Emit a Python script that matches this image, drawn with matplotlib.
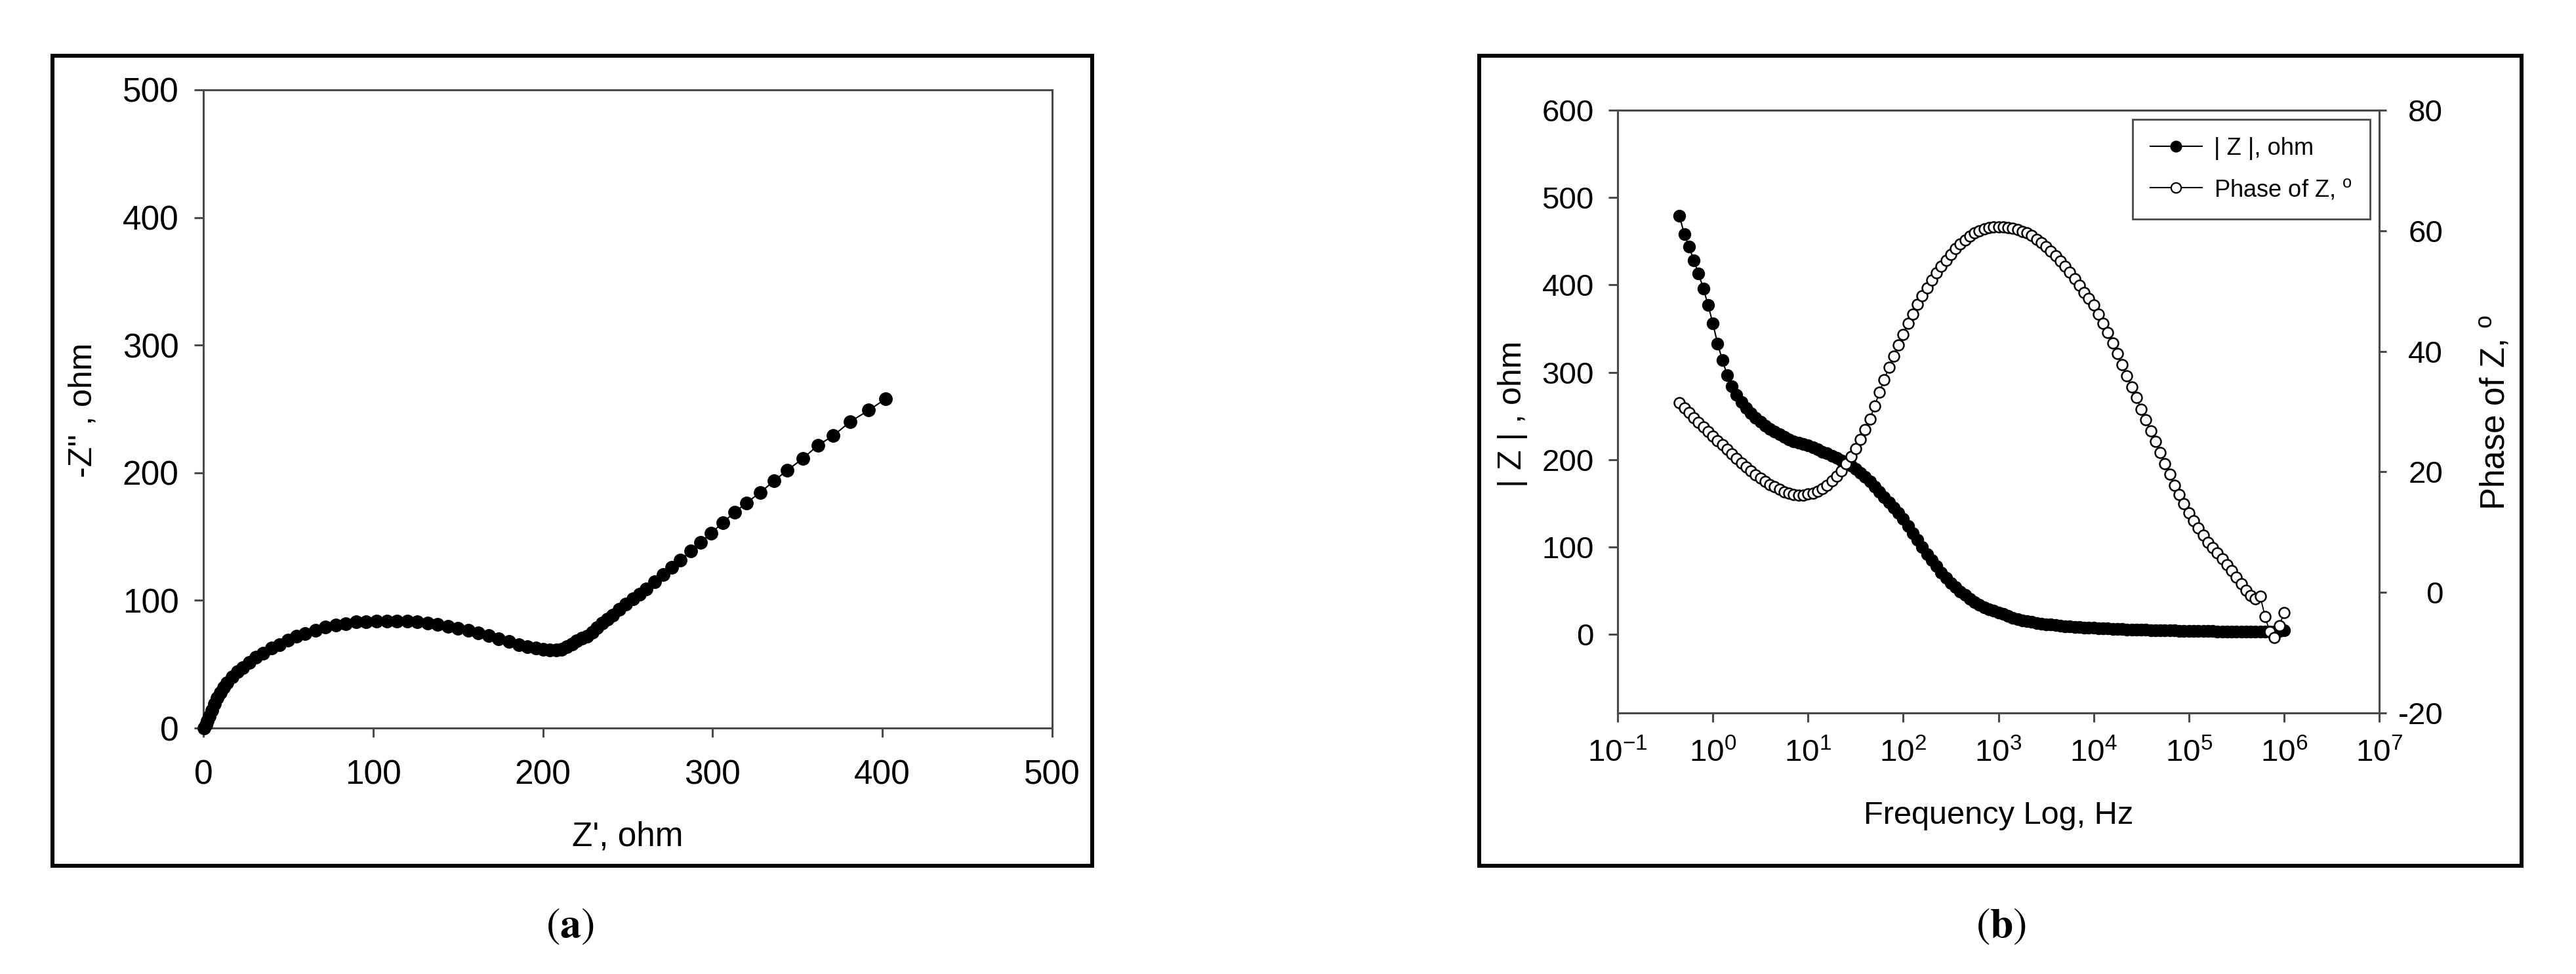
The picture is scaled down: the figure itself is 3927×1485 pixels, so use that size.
import matplotlib
matplotlib.use("Agg")
import matplotlib.pyplot as plt
from matplotlib import font_manager as fm
from matplotlib.patches import Rectangle
from matplotlib.lines import Line2D
from matplotlib.ticker import NullLocator

# ---------------- data: panel (a) Nyquist ----------------
z_real = [0.5, 1.5, 2.5, 3.5, 5, 6.5, 8, 10, 12, 14,
          17, 20, 23, 27, 31, 35, 40, 45, 50, 55,
          60, 66, 72, 78, 84, 90, 96, 102, 108, 114,
          120, 126, 132, 138, 144, 150, 156, 162, 168, 174,
          180, 186, 191, 196, 200, 204, 208, 211, 214, 217,
          220, 223, 226, 229, 232, 235, 238, 241, 245, 249,
          253, 257, 261, 266, 271, 276, 281, 287, 293, 299,
          306, 313, 320, 328, 336, 344, 353, 362, 371, 381,
          392, 402]
z_imag_neg = [0, 2.5, 5.5, 9, 14, 19, 23.5, 28, 32, 35.5,
              40, 44, 47.5, 51.5, 55.5, 58.5, 62.5, 65.5, 69, 72,
              74, 76.5, 79, 80.5, 81.8, 83, 83.5, 84, 84, 84,
              83.8, 83.3, 82.4, 81.2, 79.8, 78.2, 76.4, 74.4, 72.3, 70,
              67.7, 65.5, 63.8, 62.6, 61.8, 61.3, 61, 61.8, 63.5, 66,
              68.5, 70.5, 72, 75, 78.5, 82, 85.2, 88.5, 93, 97,
              101, 105, 109, 114.5, 120.5, 126, 131.5, 138.5, 145.5, 152.5,
              161, 169, 176.5, 184.5, 193.5, 202, 211, 221.5, 229, 240,
              249, 258]
nyq_ticks = [0, 100, 200, 300, 400, 500]

# ---------------- data: panel (b) Bode ----------------
freq_hz = [0.4467, 0.5012, 0.5623, 0.6310, 0.7079, 0.7943, 0.8913,
           1.000, 1.122, 1.259, 1.413, 1.585, 1.778, 1.995, 2.239, 2.512, 2.818,
           3.162, 3.548, 3.981, 4.467, 5.012, 5.623, 6.310, 7.079, 7.943, 8.913,
           10.00, 11.22, 12.59, 14.13, 15.85, 17.78, 19.95, 22.39, 25.12, 28.18,
           31.62, 35.48, 39.81, 44.67, 50.12, 56.23, 63.10, 70.79, 79.43, 89.13,
           100.0, 112.2, 125.9, 141.3, 158.5, 177.8, 199.5, 223.9, 251.2, 281.8,
           316.2, 354.8, 398.1, 446.7, 501.2, 562.3, 631.0, 707.9, 794.3, 891.3,
           1000, 1122, 1259, 1413, 1585, 1778, 1995, 2239, 2512, 2818,
           3162, 3548, 3981, 4467, 5012, 5623, 6310, 7079, 7943, 8913,
           10000, 11220, 12590, 14130, 15850, 17780, 19950, 22390, 25120, 28180,
           31620, 35480, 39810, 44670, 50120, 56230, 63100, 70790, 79430, 89130,
           100000, 112200, 125900, 141300, 158500, 177800, 199500, 223900, 251200, 281800,
           316200, 354800, 398100, 446700, 501200, 562300, 631000, 707900, 794300, 891300,
           1000000]
z_mod = [479, 458, 444, 428, 413, 396, 377,
         356, 333, 314, 297, 284, 274, 266, 259, 253, 248,
         243, 239, 235, 232, 229, 226, 223, 221, 219, 218,
         216, 214, 212, 209, 207, 204, 202, 199, 196, 193,
         189, 185, 180, 175, 169, 163, 157, 151, 145, 139,
         132, 124, 116, 108, 100, 92, 85, 78, 71, 65,
         59, 54, 49, 45, 41, 37, 34, 31, 29, 27,
         25, 23, 21, 19, 17.5, 16, 15, 14, 13, 12.3,
         11.6, 11, 10.4, 9.9, 9.4, 9, 8.6, 8.2, 7.9, 7.6,
         7.3, 7, 6.8, 6.5, 6.3, 6.1, 5.9, 5.7, 5.5, 5.3,
         5.2, 5.0, 4.9, 4.7, 4.6, 4.5, 4.4, 4.3, 4.2, 4.1,
         4.0, 3.9, 3.8, 3.7, 3.6, 3.5, 3.4, 3.4, 3.3, 3.3,
         3.2, 3.2, 3.1, 3.1, 3.0, 3.0, 3.0, 3.1, 3.3, 3.8,
         4.5]
z_phase = [31.5, 30.6, 29.8, 29.0, 28.2, 27.4, 26.7,
           25.9, 25.2, 24.5, 23.7, 23.0, 22.2, 21.5, 20.8, 20.1, 19.5,
           19.0, 18.4, 17.9, 17.5, 17.1, 16.7, 16.4, 16.2, 16.1, 16.1,
           16.3, 16.5, 16.8, 17.2, 17.8, 18.5, 19.3, 20.2, 21.3, 22.5,
           23.9, 25.4, 27.0, 28.8, 30.9, 33.2, 35.3, 37.3, 39.2, 41.0,
           42.8, 44.6, 46.2, 47.8, 49.2, 50.5, 51.8, 53.0, 54.1, 55.1,
           56.1, 57.0, 57.8, 58.5, 59.1, 59.6, 60.0, 60.3, 60.5, 60.6,
           60.6, 60.6, 60.5, 60.4, 60.2, 59.9, 59.6, 59.2, 58.6, 58.0,
           57.4, 56.6, 55.8, 55.0, 54.1, 53.1, 52.0, 50.9, 49.8, 48.8,
           47.7, 46.2, 44.6, 43.1, 41.4, 39.6, 37.8, 35.9, 34.1, 32.3,
           30.4, 28.6, 26.8, 25.0, 23.2, 21.4, 19.6, 17.8, 16.2, 14.7,
           13.2, 11.9, 10.7, 9.5, 8.3, 7.4, 6.5, 5.6, 4.6, 3.6,
           2.5, 1.4, 0.4, -0.5, -1.1, -0.6, -4.0, -6.5, -7.5, -5.5,
           -3.4]
freq_ticks = [1e-1, 1e0, 1e1, 1e2, 1e3, 1e4, 1e5, 1e6, 1e7]
freq_tick_labels = [r'$\mathdefault{10^{-1}}$', r'$\mathdefault{10^{0}}$',
                    r'$\mathdefault{10^{1}}$', r'$\mathdefault{10^{2}}$',
                    r'$\mathdefault{10^{3}}$', r'$\mathdefault{10^{4}}$',
                    r'$\mathdefault{10^{5}}$', r'$\mathdefault{10^{6}}$',
                    r'$\mathdefault{10^{7}}$']
mod_ticks = [0, 100, 200, 300, 400, 500, 600]
phase_ticks = [-20, 0, 20, 40, 60, 80]

# ---------------- fonts ----------------
names = {f.name for f in fm.fontManager.ttflist}
REG = 'Liberation Sans' if 'Liberation Sans' in names else 'DejaVu Sans'
if 'Liberation Sans Narrow' in names:
    NAR, NS = 'Liberation Sans Narrow', 1.0
else:
    NAR, NS = REG, 0.9
plt.rcParams['font.family'] = [REG, 'DejaVu Sans']
plt.rcParams['mathtext.fontset'] = 'custom'
plt.rcParams['mathtext.rm'] = REG
plt.rcParams['mathtext.it'] = REG + ':italic'
plt.rcParams['mathtext.bf'] = REG + ':bold'

W, H = 3927, 1485
fig = plt.figure(figsize=(W / 100, H / 100), dpi=100)


def fx(x):
    return x / W


def fy(y):
    return 1 - y / H


SP = '#4a4a4a'


def style(ax):
    for s in ax.spines.values():
        s.set_color(SP)
        s.set_linewidth(2.2)


# ---------------- panel (a) ----------------
axA = fig.add_axes([fx(310), fy(1110), (1604 - 310) / W, (1110 - 137) / H])
style(axA)
axA.plot(z_real, z_imag_neg, '-', color='black', lw=1.5, marker='o', ms=14,
         mfc='black', mec='black', clip_on=False, zorder=3)
axA.set_xlim(0, 500)
axA.set_ylim(0, 500)
axA.set_xticks(nyq_ticks)
axA.set_yticks(nyq_ticks)
axA.set_xticklabels([str(t) for t in nyq_ticks], fontsize=37, family=REG)
axA.set_yticklabels([str(t) for t in nyq_ticks], fontsize=37, family=REG)
axA.tick_params(axis='both', direction='out', length=10, width=2.2, color=SP)
axA.tick_params(axis='x', pad=24)
axA.tick_params(axis='y', pad=17)

fig.text(fx(957), fy(1276), "Z', ohm", ha='center', va='center', fontsize=37, family=REG)
fig.text(fx(127), fy(625), "-Z'' , ohm", ha='center', va='center', fontsize=36,
         family=REG, rotation=90)

# ---------------- panel (b) ----------------
axB = fig.add_axes([fx(2466), fy(1087), (3627 - 2466) / W, (1087 - 168) / H])
style(axB)
axB.set_xscale('log')
axB.plot(freq_hz, z_mod, '-', color='black', lw=1.5, marker='o', ms=13,
         mfc='black', mec='black', clip_on=False, zorder=3)
axB.set_xlim(1e-1, 1e7)
axB.set_ylim(-90, 600)
axB.set_xticks(freq_ticks)
axB.set_xticklabels(freq_tick_labels, fontsize=38 * NS, family=NAR)
axB.xaxis.set_minor_locator(NullLocator())
axB.set_yticks(mod_ticks)
axB.set_yticklabels([str(t) for t in mod_ticks], fontsize=38 * NS, family=NAR)
axB.tick_params(axis='both', direction='out', length=10, width=2.2, color=SP)
axB.tick_params(axis='x', pad=18)
axB.tick_params(axis='y', pad=16)

axP = axB.twinx()
style(axP)
axP.plot(freq_hz, z_phase, '-', color='black', lw=1.3, marker='o', ms=11.5,
         mfc='white', mec='black', mew=1.8, clip_on=False, zorder=3)
axP.set_ylim(-20, 80)
axP.set_yticks(phase_ticks)
axP.set_yticklabels([str(t) for t in phase_ticks], fontsize=38 * NS, family=NAR)
axP.tick_params(axis='y', direction='out', length=8, width=2.2, color=SP, pad=62)
for lbl in axP.get_yticklabels():
    lbl.set_horizontalalignment('right')
axP.xaxis.set_minor_locator(NullLocator())

fig.text(fx(3047), fy(1244), 'Frequency Log, Hz', ha='center', va='center',
         fontsize=39 * NS, family=NAR)
fig.text(fx(2306), fy(631), '| Z | , ohm', ha='center', va='center', fontsize=36,
         family=REG, rotation=90)
fig.text(fx(3805), fy(629), r'Phase of Z, $^{\mathdefault{o}}$', ha='center', va='center',
         fontsize=37, family=REG, rotation=90)

# legend
lfs = 29 * NS
h1 = Line2D([], [], color='black', lw=1.5, marker='o', ms=12, mfc='black', mec='black')
h2 = Line2D([], [], color='black', lw=1.5, marker='o', ms=11, mfc='white', mec='black', mew=1.6)
leg = axP.legend([h1, h2], ['| Z |, ohm', r'Phase of Z, $^{\mathdefault{o}}$'],
                 loc='upper right', bbox_to_anchor=(0.988, 0.985), borderaxespad=0,
                 prop={'family': NAR, 'size': lfs}, handlelength=79 / (lfs * 100 / 72),
                 handletextpad=0.5, borderpad=0.75, labelspacing=0.75,
                 fancybox=False, framealpha=1, edgecolor=SP, numpoints=1)
leg.get_frame().set_linewidth(2.0)

# ---------------- outer frames & captions ----------------
for x0, x1 in [(80, 1665), (2255, 3844)]:
    fig.add_artist(Rectangle((fx(x0), fy(1320)), (x1 - x0) / W, (1320 - 85) / H,
                             transform=fig.transFigure, fill=False, lw=4.3,
                             ec='black', joinstyle='miter'))

fig.text(fx(869), fy(1413), r'$\mathrm{(}\mathbf{a}\mathrm{)}$', ha='center', va='center',
         fontsize=46, math_fontfamily='stix')
fig.text(fx(3051), fy(1413), r'$\mathrm{(}\mathbf{b}\mathrm{)}$', ha='center', va='center',
         fontsize=46, math_fontfamily='stix')

fig.savefig('out.png', dpi=100, facecolor='white')
